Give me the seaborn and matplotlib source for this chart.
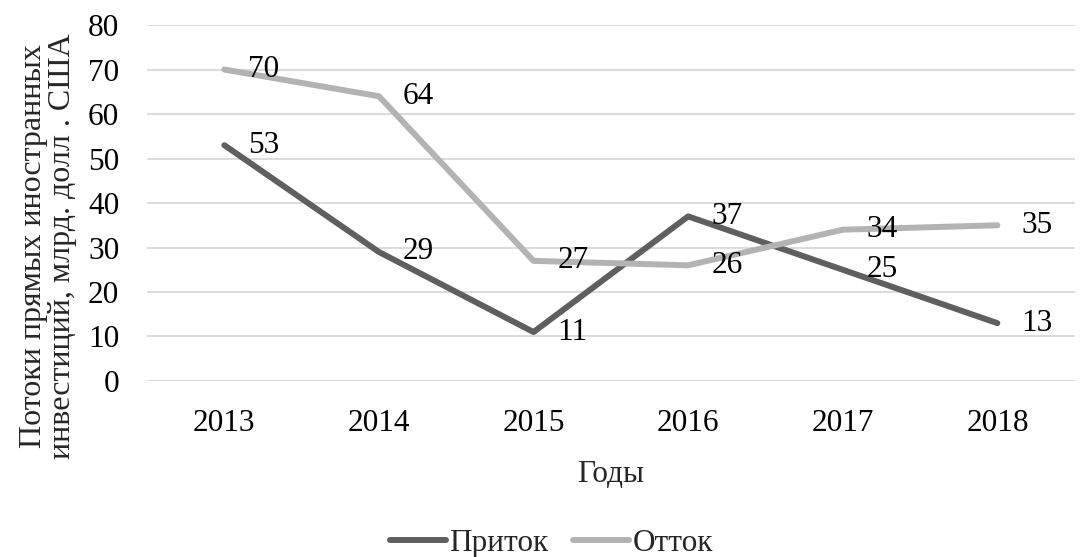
import pandas as pd
import seaborn as sns
import matplotlib.pyplot as plt

# data
years = ["2013", "2014", "2015", "2016", "2017", "2018"]
inflow = [53, 29, 11, 37, 25, 13]
outflow = [70, 64, 27, 26, 34, 35]

df = pd.DataFrame({
    "year": years * 2,
    "value": inflow + outflow,
    "series": ["Приток"] * len(years) + ["Отток"] * len(years),
})

sns.set_theme(style="white")
plt.rcParams["font.family"] = ["Liberation Serif", "DejaVu Serif"]
fs = 22.5

fig = plt.figure(figsize=(10.85, 5.57), dpi=100)
ax = fig.add_axes([0.1355, 0.316, 0.855, 0.639])

palette = {"Приток": "#5f5f5f", "Отток": "#b3b3b3"}
sns.lineplot(data=df, x="year", y="value", hue="series", palette=palette,
             linewidth=4.3, sort=False, ax=ax, legend=True,
             solid_capstyle="round", solid_joinstyle="round")

# data labels to the right of each point
for vals in (inflow, outflow):
    for i, v in enumerate(vals):
        ax.annotate(str(v), (i, v), xytext=(17, 0), textcoords="offset points",
                    ha="left", va="center", fontsize=fs, color="#000000")

ax.set_ylim(0, 80)
ax.set_yticks(range(0, 81, 10))
ax.set_xlim(-0.5, 5.5)
ax.yaxis.grid(True, color="#d9d9d9", linewidth=1.3)
ax.set_axisbelow(True)
for s in ax.spines.values():
    s.set_visible(False)
ax.tick_params(axis="both", length=0, labelsize=fs, colors="#000000")
ax.tick_params(axis="x", pad=20)
ax.tick_params(axis="y", pad=20)

ax.set_xlabel("Годы", fontsize=fs, labelpad=16)
ax.set_ylabel("Потоки прямых иностранных\nинвестиций, млрд. долл . США",
              fontsize=23, linespacing=1.0)
ax.yaxis.set_label_coords(-0.076, 0.379)

handles, labels = ax.get_legend_handles_labels()
ax.get_legend().remove()
fig.legend(handles, labels, loc="center", bbox_to_anchor=(0.508, 0.025),
           ncol=2, frameon=False, fontsize=fs, handlelength=1.8,
           handletextpad=0.1, columnspacing=0.8)

fig.savefig("out.png", dpi=100)
